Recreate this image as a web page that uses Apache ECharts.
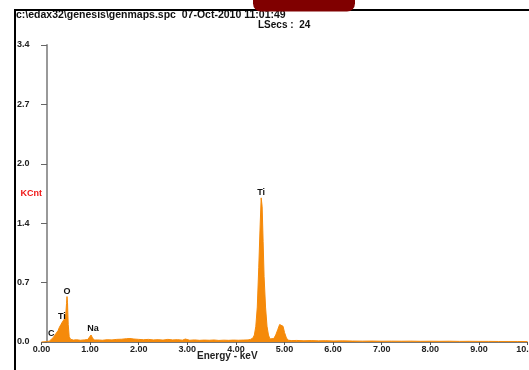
<!DOCTYPE html>
<html>
<head>
<meta charset="utf-8">
<script src="https://cdn.jsdelivr.net/npm/echarts@6/dist/echarts.min.js"></script>
<style>
	html, body { margin: 0; padding: 0; background: #fff; }
	#spectrum { width: 529px; height: 370px; }
</style>
</head>
<body>
<div id="spectrum"></div>
<script>
// spectrum: energy (keV) and counts (KCnt)
var energy = [0.00, 0.10, 0.16, 0.20, 0.24, 0.27, 0.29, 0.31, 0.34, 0.37, 0.40, 0.43, 0.46, 0.48, 0.50, 0.515, 0.525, 0.535, 0.55, 0.57, 0.60,
	0.66, 0.72, 0.80, 0.88, 0.95, 0.99, 1.02, 1.05, 1.09, 1.15, 1.25, 1.35, 1.45, 1.55, 1.65, 1.75, 1.82, 1.90, 2.00,
	2.10, 2.20, 2.30, 2.40, 2.50, 2.60, 2.70, 2.80, 2.90, 2.96, 3.05, 3.15, 3.25, 3.35, 3.45, 3.55, 3.65, 3.75, 3.85, 3.95,
	4.05, 4.15, 4.25, 4.30, 4.35, 4.38, 4.41, 4.44, 4.47, 4.50, 4.52, 4.54, 4.56, 4.58, 4.61, 4.64, 4.67, 4.70, 4.74,
	4.78, 4.82, 4.86, 4.90, 4.94, 4.97, 5.00, 5.04, 5.08, 5.15, 5.25, 5.40, 5.55, 5.70, 5.85, 6.00, 6.20, 6.40,
	6.60, 6.80, 7.00, 7.20, 7.40, 7.60, 7.80, 8.00, 8.20, 8.40, 8.60, 8.80, 9.00, 9.20, 9.40, 9.60, 9.80, 10.00];
var kcnt = [0.000, 0.004, 0.010, 0.025, 0.050, 0.075, 0.070, 0.090, 0.130, 0.170, 0.200, 0.230, 0.250, 0.270, 0.320, 0.440, 0.520, 0.450, 0.200, 0.060, 0.030,
	0.022, 0.026, 0.020, 0.024, 0.028, 0.045, 0.080, 0.045, 0.022, 0.024, 0.020, 0.026, 0.024, 0.030, 0.032, 0.038, 0.040, 0.034, 0.030,
	0.026, 0.030, 0.024, 0.027, 0.022, 0.030, 0.024, 0.027, 0.021, 0.034, 0.020, 0.024, 0.019, 0.022, 0.020, 0.023, 0.018, 0.021, 0.019, 0.022,
	0.020, 0.022, 0.024, 0.030, 0.045, 0.080, 0.180, 0.400, 0.850, 1.350, 1.650, 1.550, 1.150, 0.750, 0.400, 0.180, 0.080, 0.035, 0.022,
	0.040, 0.080, 0.140, 0.200, 0.220, 0.180, 0.110, 0.045, 0.020, 0.016, 0.018, 0.014, 0.016, 0.013, 0.015, 0.012, 0.013, 0.011,
	0.010, 0.011, 0.009, 0.010, 0.009, 0.010, 0.008, 0.009, 0.008, 0.009, 0.007, 0.008, 0.007, 0.007, 0.006, 0.006, 0.006, 0.005];

// element labels
var peakNames = ['C', 'Ti', 'O', 'Na', 'Ti'];
var peakX = [0.20, 0.42, 0.525, 1.06, 4.52];
var peakY = [0.04, 0.24, 0.53, 0.10, 1.66];

var yTicks = [0.0, 0.7, 1.4, 2.0, 2.7, 3.4];

var points = energy.map(function (e, i) { return [e, kcnt[i]]; });
var marks = peakNames.map(function (n, i) {
	return { name: n, coord: [peakX[i], peakY[i]] };
});

var chart = echarts.init(document.getElementById('spectrum'));

var option = {
	animation: false,
	backgroundColor: '#fff',
	title: [
		{
			text: 'c:\\edax32\\genesis\\genmaps.spc  07-Oct-2010 11:01:49',
			left: 16, top: 10, padding: 0,
			textStyle: { fontFamily: 'Liberation Sans', fontSize: 10.5, fontWeight: 'bold', color: '#111' }
		},
		{
			text: 'LSecs :  24',
			left: 258, top: 20, padding: 0,
			textStyle: { fontFamily: 'Liberation Sans', fontSize: 10, fontWeight: 'bold', color: '#111' }
		}
	],
	grid: { left: 41.5, right: 1.5, top: 45, bottom: 28, outerBoundsMode: 'none', containLabel: false },
	xAxis: {
		type: 'value',
		min: 0, max: 10, interval: 1,
		axisLine: { lineStyle: { color: '#777', width: 1 } },
		axisTick: { length: 3, lineStyle: { color: '#555' } },
		splitLine: { show: false },
		axisLabel: {
			margin: 3,
			fontFamily: 'Liberation Sans', fontSize: 9, fontWeight: 'bold', color: '#222',
			formatter: function (v) { return v.toFixed(2); }
		}
	},
	yAxis: {
		type: 'value',
		min: 0, max: 3.4, interval: 0.68,
		offset: -5.5,
		name: 'KCnt',
		nameLocation: 'middle',
		nameRotate: 0,
		nameGap: 5,
		nameMoveOverlap: false,
		nameTextStyle: { fontFamily: 'Liberation Sans', fontSize: 9, fontWeight: 'bold', color: '#f01818', align: 'right' },
		axisLine: { show: true, lineStyle: { color: '#999', width: 2 } },
		axisTick: { length: 6, lineStyle: { color: '#666' } },
		splitLine: { show: false },
		axisLabel: {
			margin: 30, align: 'left',
			fontFamily: 'Liberation Sans', fontSize: 9, fontWeight: 'bold', color: '#222',
			formatter: function (v, i) { return yTicks[i].toFixed(1); }
		}
	},
	graphic: [
		{
			type: 'rect', z: 100, silent: true,
			shape: { x: 15, y: 10, width: 600, height: 400 },
			style: { fill: 'none', stroke: '#000', lineWidth: 2 }
		},
		{
			type: 'rect', z: 101, silent: true,
			shape: { x: 253, y: -10, width: 102, height: 21.5, r: 8 },
			style: { fill: '#800000' }
		},
		{
			type: 'text', z: 100, left: 197, top: 351,
			style: { text: 'Energy - keV', fontFamily: 'Liberation Sans', fontSize: 10, fontWeight: 'bold', fill: '#222' }
		}
	],
	series: [
		{
			type: 'line',
			data: points,
			showSymbol: false,
			lineStyle: { color: '#f58a0a', width: 1 },
			itemStyle: { color: '#f58a0a' },
			areaStyle: { color: '#f58a0a', opacity: 1 },
			markPoint: {
				symbol: 'circle',
				symbolSize: 0,
				label: {
					show: true, position: 'top', distance: 0,
					formatter: '{b}',
					fontFamily: 'Liberation Sans', fontSize: 9, fontWeight: 'bold', color: '#111'
				},
				data: marks
			}
		}
	]
};
chart.setOption(option);
</script>
</body>
</html>
